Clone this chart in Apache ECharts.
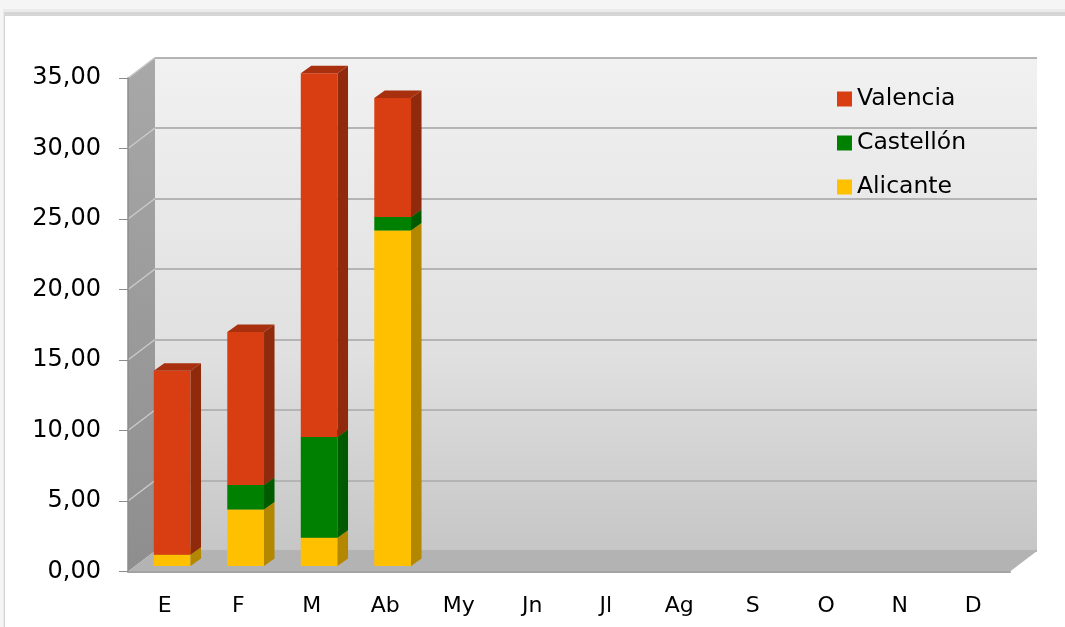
<!DOCTYPE html>
<html>
<head>
<meta charset="utf-8">
<script src="https://cdn.jsdelivr.net/npm/echarts@6/dist/echarts.min.js"></script>
<style>
html, body { margin: 0; padding: 0; background: #f4f4f4; }
#main { width: 1065px; height: 627px; }
</style>
</head>
<body>
<div id="main"></div>
<script>
var months = ['E', 'F', 'M', 'Ab', 'My', 'Jn', 'Jl', 'Ag', 'S', 'O', 'N', 'D'];
var alicante = [0.8, 4.0, 2.0, 23.8];
var castellon = [0, 1.75, 7.15, 0.95];
var valencia = [13.05, 10.85, 25.8, 8.45];
var yMax = 35;
var yStep = 5;

// profundidad de la caja 3D y de las barras
var DEPTH_X = 27, DEPTH_Y = 20.5;
var BAR_OFF_X = 7.4, BAR_OFF_Y = 5.5;
var BAR_DX = 10.5, BAR_DY = 7.5;

function fmt(v) {
    return v.toFixed(2).replace('.', ',');
}

function buildData(vals, below) {
    return vals.map(function (v, i) {
        var b = 0;
        below.forEach(function (a) { b += a[i] || 0; });
        return [i, b, v];
    });
}

function bar3d(front, side, top) {
    return function (params, api) {
        var val = api.value(2);
        if (!val) return;
        var base = api.value(1);
        var p0 = api.coord([api.value(0), base]);
        var p1 = api.coord([api.value(0), base + val]);
        var bw = api.size([1, 0])[0] * 0.5;
        var x0 = p0[0] - bw / 2 + BAR_OFF_X, x1 = x0 + bw;
        var yb = p0[1] - BAR_OFF_Y, yt = p1[1] - BAR_OFF_Y;
        return {
            type: 'group',
            children: [
                { type: 'polygon', shape: { points: [[x0, yb], [x1, yb], [x1, yt], [x0, yt]] }, style: { fill: front } },
                { type: 'polygon', shape: { points: [[x1, yb], [x1 + BAR_DX, yb - BAR_DY], [x1 + BAR_DX, yt - BAR_DY], [x1, yt]] }, style: { fill: side } },
                { type: 'polygon', shape: { points: [[x0, yt], [x1, yt], [x1 + BAR_DX, yt - BAR_DY], [x0 + BAR_DX, yt - BAR_DY]] }, style: { fill: top } }
            ]
        };
    };
}

var myChart = echarts.init(document.getElementById('main'));
var option = {
    animation: false,
    textStyle: { fontFamily: 'DejaVu Sans' },
    legend: {
        data: ['Valencia', 'Castellón', 'Alicante'],
        orient: 'vertical',
        left: 832,
        top: 82,
        itemWidth: 15,
        itemHeight: 15,
        itemGap: 20,
        icon: 'rect',
        textStyle: { fontSize: 23.5, color: '#000', lineHeight: 24 }
    },
    grid: [
        { left: 128, right: 55, top: 78, bottom: 55.5 },
        {
            left: 155, right: 28, top: 57.5, bottom: 76, show: true, borderWidth: 0,
            backgroundColor: new echarts.graphic.LinearGradient(0, 0, 0, 1, [
                { offset: 0, color: '#f1f1f1' },
                { offset: 0.6, color: '#e0e0e0' },
                { offset: 1, color: '#c6c6c6' }
            ])
        }
    ],
    xAxis: [
        {
            type: 'category', gridIndex: 0, data: months, z: 3,
            axisLine: { lineStyle: { color: '#a3a3a3', width: 2 } },
            axisTick: { length: 8, lineStyle: { color: '#8c8c8c' } },
            axisLabel: { fontSize: 22, color: '#000', margin: 24 }
        },
        { type: 'category', gridIndex: 1, data: months, show: false }
    ],
    yAxis: [
        {
            type: 'value', gridIndex: 0, min: 0, max: yMax, interval: yStep, z: 3,
            axisLine: { show: true, lineStyle: { color: '#8c8c8c', width: 1.5 } },
            axisTick: { show: true, length: 9, lineStyle: { color: '#8c8c8c' } },
            splitLine: { show: false },
            axisLabel: { fontSize: 24, color: '#000', margin: 27, formatter: fmt }
        },
        {
            type: 'value', gridIndex: 1, min: 0, max: yMax, interval: yStep,
            axisLine: { show: false }, axisTick: { show: false }, axisLabel: { show: false },
            splitLine: { show: true, lineStyle: { color: '#b4b4b4', width: 2 } }
        }
    ],
    series: [
        {
            name: 'Alicante', type: 'custom', xAxisIndex: 0, yAxisIndex: 0,
            itemStyle: { color: '#FFC000' },
            encode: { x: 0, y: [1, 2] },
            renderItem: bar3d('#FFC000', '#B38700', '#D9A300'),
            data: buildData(alicante, [])
        },
        {
            name: 'Castellón', type: 'custom', xAxisIndex: 0, yAxisIndex: 0,
            itemStyle: { color: '#008000' },
            encode: { x: 0, y: [1, 2] },
            renderItem: bar3d('#008000', '#005A00', '#006A00'),
            data: buildData(castellon, [alicante])
        },
        {
            name: 'Valencia', type: 'custom', xAxisIndex: 0, yAxisIndex: 0,
            itemStyle: { color: '#D83E12' },
            encode: { x: 0, y: [1, 2] },
            renderItem: bar3d('#D83E12', '#8F2A0C', '#A8300E'),
            data: buildData(valencia, [alicante, castellon])
        }
    ]
};
myChart.setOption(option);

// paredes lateral y suelo a partir de las escalas
var xL = myChart.convertToPixel({ xAxisIndex: 0 }, 0) - 36.75;
var xR = myChart.convertToPixel({ xAxisIndex: 0 }, months.length - 1) + 36.75;
var y0 = myChart.convertToPixel({ yAxisIndex: 0 }, 0);
var yT = myChart.convertToPixel({ yAxisIndex: 0 }, yMax);
var gr = [
    { type: 'rect', z: -10, shape: { x: 0, y: 0, width: 1065, height: 627 }, style: { fill: '#f5f5f5' } },
    { type: 'rect', z: -10, shape: { x: 3, y: 9, width: 1100, height: 700 }, style: { fill: '#ebebeb' } },
    { type: 'rect', z: -10, shape: { x: 4, y: 12, width: 1100, height: 700 }, style: { fill: '#d6d6d6' } },
    { type: 'rect', z: -10, shape: { x: 5, y: 16, width: 1100, height: 700 }, style: { fill: '#ffffff' } },
    {
        type: 'polygon', z: 1,
        shape: { points: [[xL, yT], [xL + DEPTH_X, yT - DEPTH_Y], [xL + DEPTH_X, y0 - DEPTH_Y], [xL, y0]] },
        style: {
            fill: new echarts.graphic.LinearGradient(0, 0, 0, 1, [
                { offset: 0, color: '#a8a8a8' },
                { offset: 1, color: '#8e8e8e' }
            ])
        }
    },
    {
        type: 'polygon', z: 1,
        shape: { points: [[xL, y0], [xR, y0], [xR + DEPTH_X, y0 - DEPTH_Y], [xL + DEPTH_X, y0 - DEPTH_Y]] },
        style: { fill: '#b3b3b3' }
    }
];
for (var v = yStep; v <= yMax; v += yStep) {
    var yf = myChart.convertToPixel({ yAxisIndex: 0 }, v);
    var yb = myChart.convertToPixel({ yAxisIndex: 1 }, v);
    gr.push({
        type: 'line', z: 1,
        shape: { x1: xL, y1: yf, x2: xL + DEPTH_X, y2: yb },
        style: { stroke: '#cacaca', lineWidth: 1.5 }
    });
}
myChart.setOption({ graphic: gr });
</script>
</body>
</html>
